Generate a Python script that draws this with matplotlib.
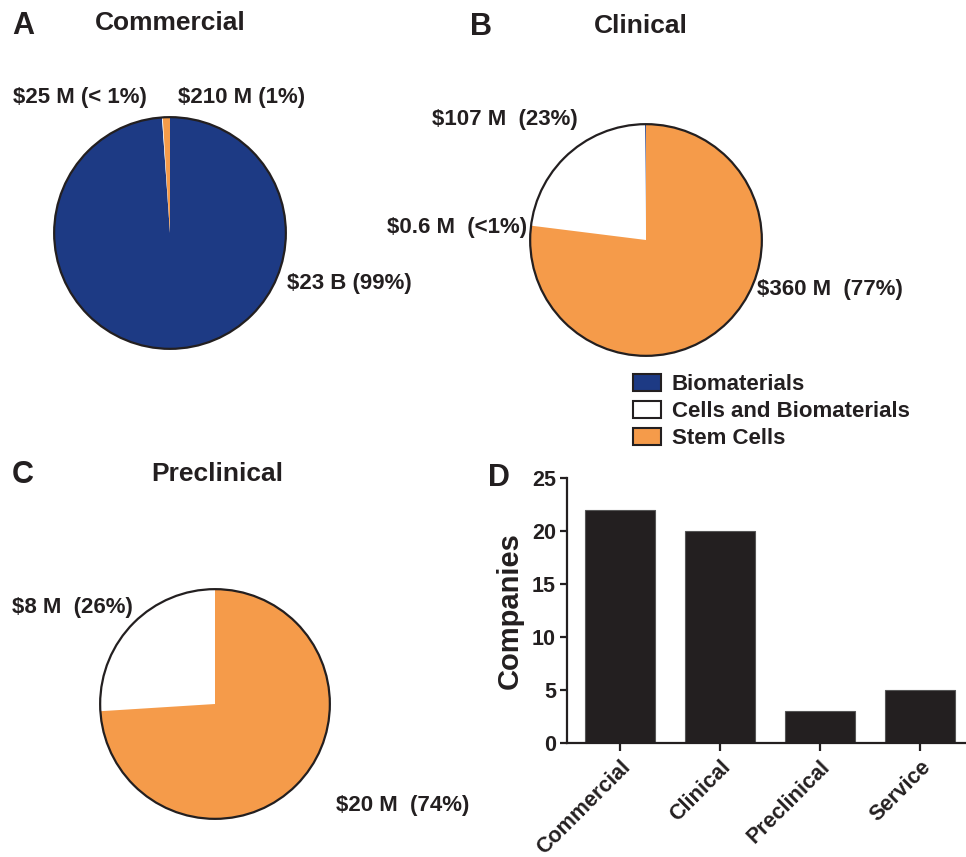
import matplotlib.pyplot as plt
from matplotlib.patches import Circle, Patch

plt.rcParams['font.family'] = ['Liberation Sans', 'DejaVu Sans']
plt.rcParams['font.weight'] = 'bold'
plt.rcParams['axes.labelweight'] = 'bold'
plt.rcParams['text.color'] = '#231f20'
plt.rcParams['axes.labelcolor'] = '#231f20'
plt.rcParams['xtick.color'] = '#231f20'
plt.rcParams['ytick.color'] = '#231f20'

W, H = 966, 857

# funding categories (same order in every pie)
categories = ['Biomaterials', 'Cells and Biomaterials', 'Stem Cells']
colors = ['#1d3a84', '#ffffff', '#f59b4a']

# shares in percent
commercial_share = [98.9, 0.1, 1.0]
clinical_share = [0.13, 22.9, 77.0]
preclinical_share = [0.0, 26.0, 74.0]

commercial_labels = ['$23 B (99%)', '$25 M (< 1%)', '$210 M (1%)']
clinical_labels = ['$0.6 M  (<1%)', '$107 M  (23%)', '$360 M  (77%)']
preclinical_labels = ['', '$8 M  (26%)', '$20 M  (74%)']

# companies per stage
stages = ['Commercial', 'Clinical', 'Preclinical', 'Service']
companies = [22, 20, 3, 5]

dark = '#231f20'
LBL = 16


def px_rect(cx, cy, r):
    return [(cx - r) / W, 1 - (cy + r) / H, 2 * r / W, 2 * r / H]


def ftext(x, y, s, **kw):
    fig.text(x / W, 1 - y / H, s, **kw)


fig = plt.figure(figsize=(W / 100, H / 100), dpi=100, facecolor='white')


def draw_pie(rect, shares, counterclock):
    ax = fig.add_axes(rect)
    wedges, _ = ax.pie(shares, colors=colors, startangle=90,
                       counterclock=counterclock,
                       wedgeprops=dict(linewidth=0))
    ax.add_patch(Circle((0, 0), 1, fill=False, lw=1.6, ec=dark))
    ax.set_xlim(-1.01, 1.01)
    ax.set_ylim(-1.01, 1.01)
    return ax, wedges


# A: commercial
axA, _ = draw_pie(px_rect(170, 233, 117), commercial_share, False)
ftext(12, 26, 'A', fontsize=22, va='center')
ftext(170, 23, 'Commercial', fontsize=19, ha='center', va='center')
ftext(13, 97, commercial_labels[1], fontsize=LBL, va='center')
ftext(178, 97, commercial_labels[2], fontsize=LBL, va='center')
ftext(287, 284, commercial_labels[0], fontsize=LBL, va='center')

# B: clinical
axB, wedgesB = draw_pie(px_rect(646, 240, 117), clinical_share, True)
ftext(470, 27, 'B', fontsize=22, va='center')
ftext(641, 26, 'Clinical', fontsize=19, ha='center', va='center')
ftext(432, 120, clinical_labels[1], fontsize=LBL, va='center')
ftext(387, 227, clinical_labels[0], fontsize=LBL, va='center')
ftext(757, 290, clinical_labels[2], fontsize=LBL, va='center')

# C: preclinical
axC, _ = draw_pie(px_rect(215, 704, 116), preclinical_share, True)
ftext(12, 475, 'C', fontsize=22, va='center')
ftext(217, 474, 'Preclinical', fontsize=19, ha='center', va='center')
ftext(12, 608, preclinical_labels[1], fontsize=LBL, va='center')
ftext(336, 805, preclinical_labels[2], fontsize=LBL, va='center')

# legend
handles = [Patch(facecolor=c, edgecolor=dark, linewidth=1.5) for c in colors]
fig.legend(handles, categories, loc='upper left',
           bbox_to_anchor=(633 / W, 1 - 374 / H), frameon=False,
           fontsize=16, handlelength=1.25, handleheight=0.8,
           handletextpad=0.5, labelspacing=0.25, borderaxespad=0,
           borderpad=0)

# D: bar chart
axD = fig.add_axes([567 / W, 1 - 743 / H, (966 - 567) / W, (743 - 478) / H])
axD.bar(range(len(stages)), companies, width=0.7, color=dark,
        edgecolor='#555555', linewidth=0.8)
axD.set_xlim(-0.53, 3.46)
axD.set_ylim(0, 25)
axD.set_yticks([0, 5, 10, 15, 20, 25])
axD.set_xticks(range(len(stages)))
axD.set_xticklabels(stages, rotation=45, ha='right', rotation_mode='anchor')
axD.set_ylabel('Companies', fontsize=21, labelpad=6)
for s in ['top', 'right']:
    axD.spines[s].set_visible(False)
for s in ['left', 'bottom']:
    axD.spines[s].set_linewidth(1.6)
    axD.spines[s].set_color(dark)
axD.tick_params(direction='out', length=5, width=1.6, labelsize=15.5, pad=3)
axD.tick_params(axis='x', length=6, pad=4)
ftext(488, 478, 'D', fontsize=22, va='center')

fig.savefig('out.png', dpi=100, facecolor='white')
